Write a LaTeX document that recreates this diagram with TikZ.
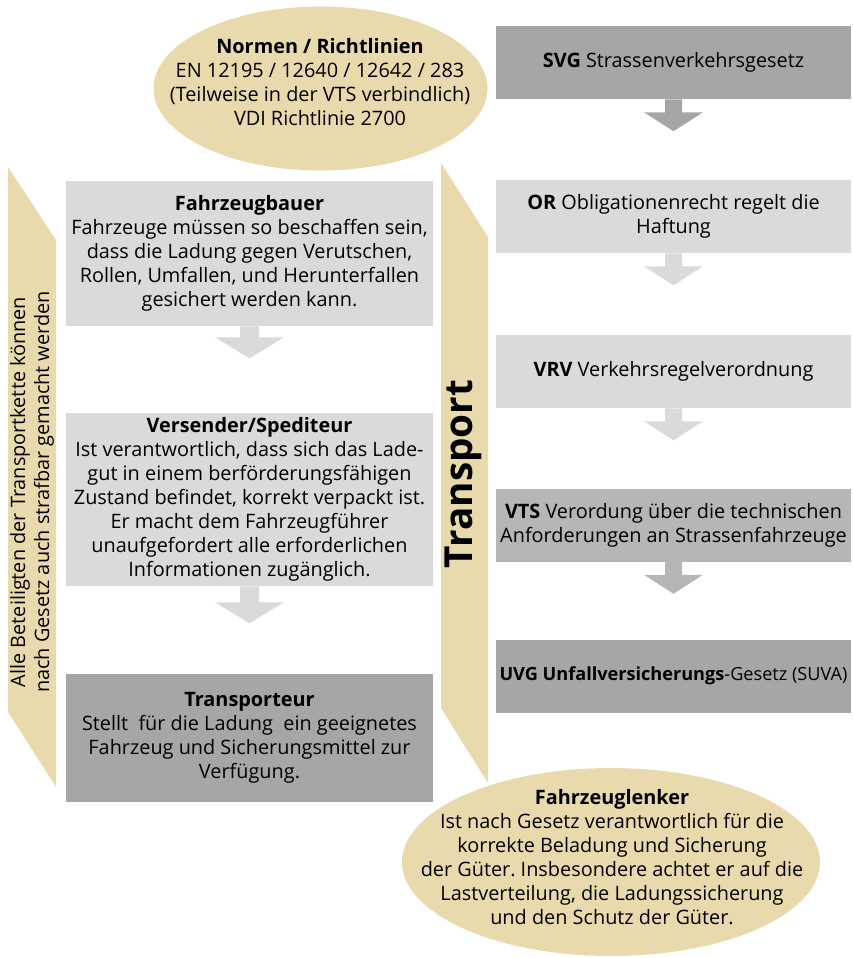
\documentclass[tikz,border=0pt]{standalone}
\usepackage{fontspec}
\setmainfont{Open Sans}
\usetikzlibrary{calc}
\definecolor{sandfill}{RGB}{233,218,174}
\definecolor{greylight}{RGB}{217,218,219}
\definecolor{greymid}{RGB}{181,182,183}
\definecolor{greydark}{RGB}{165,166,167}
\frenchspacing
% block arrow below a box: node, colour, stem half width, head half width, stem length, head length
\newcommand{\blockarrow}[6]{%
  \fill[#2] ($(#1.south)+(-#3,0)$) -- ($(#1.south)+(-#3,#5)$) -- ($(#1.south)+(-#4,#5)$) -- ($(#1.south)+(0,#5+#6)$) -- ($(#1.south)+(#4,#5)$) -- ($(#1.south)+(#3,#5)$) -- ($(#1.south)+(#3,0)$) -- cycle ;}

\begin{document}
\begin{tikzpicture}[x=0.75pt,y=0.75pt,yscale=-1,xscale=1,
    txt/.style={inner sep=0pt, align=center, font=\fontsize{14.9}{18}\selectfont},
    lbox/.style={txt, minimum width=275.25pt},
    rbox/.style={txt, minimum width=266.25pt, minimum height=54.75pt}]
\useasboundingbox (0,0) rectangle (853,958);

%Shape: Band left
\fill [sandfill] (8,167) -- (56,240) -- (56,787) -- (8,712) -- cycle ;
%Shape: Band middle
\fill [sandfill] (441,163) -- (488,237) -- (488,783) -- (441,708) -- cycle ;
%Shape: Ellipse top
\fill [sandfill] (320.5,88.5) ellipse (167 and 82) ;
%Shape: Ellipse bottom
\fill [sandfill] (611,862) ellipse (209 and 94) ;

% Text Node
\draw (320,82) node (normen) [txt] {\textbf{Normen / Richtlinien}\\EN 12195 / 12640 / 12642 / 283\\(Teilweise in der VTS verbindlich)\\VDI Richtlinie 2700};
% Text Node
\draw (612,857) node (lenker) [txt] {\textbf{Fahrzeuglenker}\\Ist nach Gesetz verantwortlich für die\\korrekte Beladung und Sicherung\\der Güter. Insbesondere achtet er auf die\\Lastverteilung, die Ladungssicherung\\und den Schutz der Güter.};
% Text Node
\draw (32,492) node (beteiligte) [txt, rotate=90] {Alle Beteiligten der Transportkette können\\nach Gesetz auch strafbar gemacht werden};
% Text Node
\draw (463,474) node (transport) [inner sep=0pt, rotate=90, font=\fontsize{29}{29}\selectfont\bfseries] {Transport};

%Shape: Rectangle left column
\draw (249.5,253.5) node (bauer) [lbox, fill=greylight, minimum height=108.75pt] {\textbf{Fahrzeugbauer}\\Fahrzeuge müssen so beschaffen sein,\\dass die Ladung gegen Verutschen,\\Rollen, Umfallen, und Herunterfallen\\gesichert werden kann.};
\draw (249.5,499.5) node (versender) [lbox, fill=greylight, minimum height=129.75pt] {\textbf{Versender/Spediteur}\\Ist verantwortlich, dass sich das Lade-\\gut in einem berförderungsfähigen\\Zustand befindet, korrekt verpackt ist.\\Er macht dem Fahrzeugführer\\unaufgefordert alle erforderlichen\\Informationen zugänglich.};
\draw (249.5,738) node (transporteur) [lbox, fill=greydark, minimum height=96pt] {\textbf{Transporteur}\\Stellt\ \ für die Ladung\ \ ein geeignetes\\Fahrzeug und Sicherungsmittel zur\\Verfügung.};

%Shape: Rectangle right column
\draw (673.5,62.5) node (svg) [rbox, fill=greydark] {\textbf{SVG} Strassenverkehrsgesetz};
\draw (673.5,216.5) node (or) [rbox, fill=greylight] {\textbf{OR} Obligationenrecht regelt die\\Haftung};
\draw (673.5,371.5) node (vrv) [rbox, fill=greylight] {\textbf{VRV} Verkehrsregelverordnung};
\draw (673.5,525) node (vts) [rbox, fill=greymid] {\textbf{VTS} Verordung über die technischen\\Anforderungen an Strassenfahrzeuge};
\draw (673.5,676) node (uvg) [rbox, fill=greydark, font=\fontsize{13.6}{18}\selectfont] {\textbf{UVG Unfallversicherungs}-Gesetz (SUVA)};

%Block Arrows
\blockarrow{bauer}{greylight}{9.5}{34.5}{11}{21}
\blockarrow{versender}{greylight}{9.5}{34.5}{16}{21}
\blockarrow{svg}{greydark}{8.5}{29.5}{13}{19}
\blockarrow{or}{greylight}{8.5}{29.5}{13}{19}
\blockarrow{vrv}{greylight}{8.5}{29.5}{13}{19}
\blockarrow{vts}{greymid}{8.5}{29.5}{13}{19}
\end{tikzpicture}
\end{document}
